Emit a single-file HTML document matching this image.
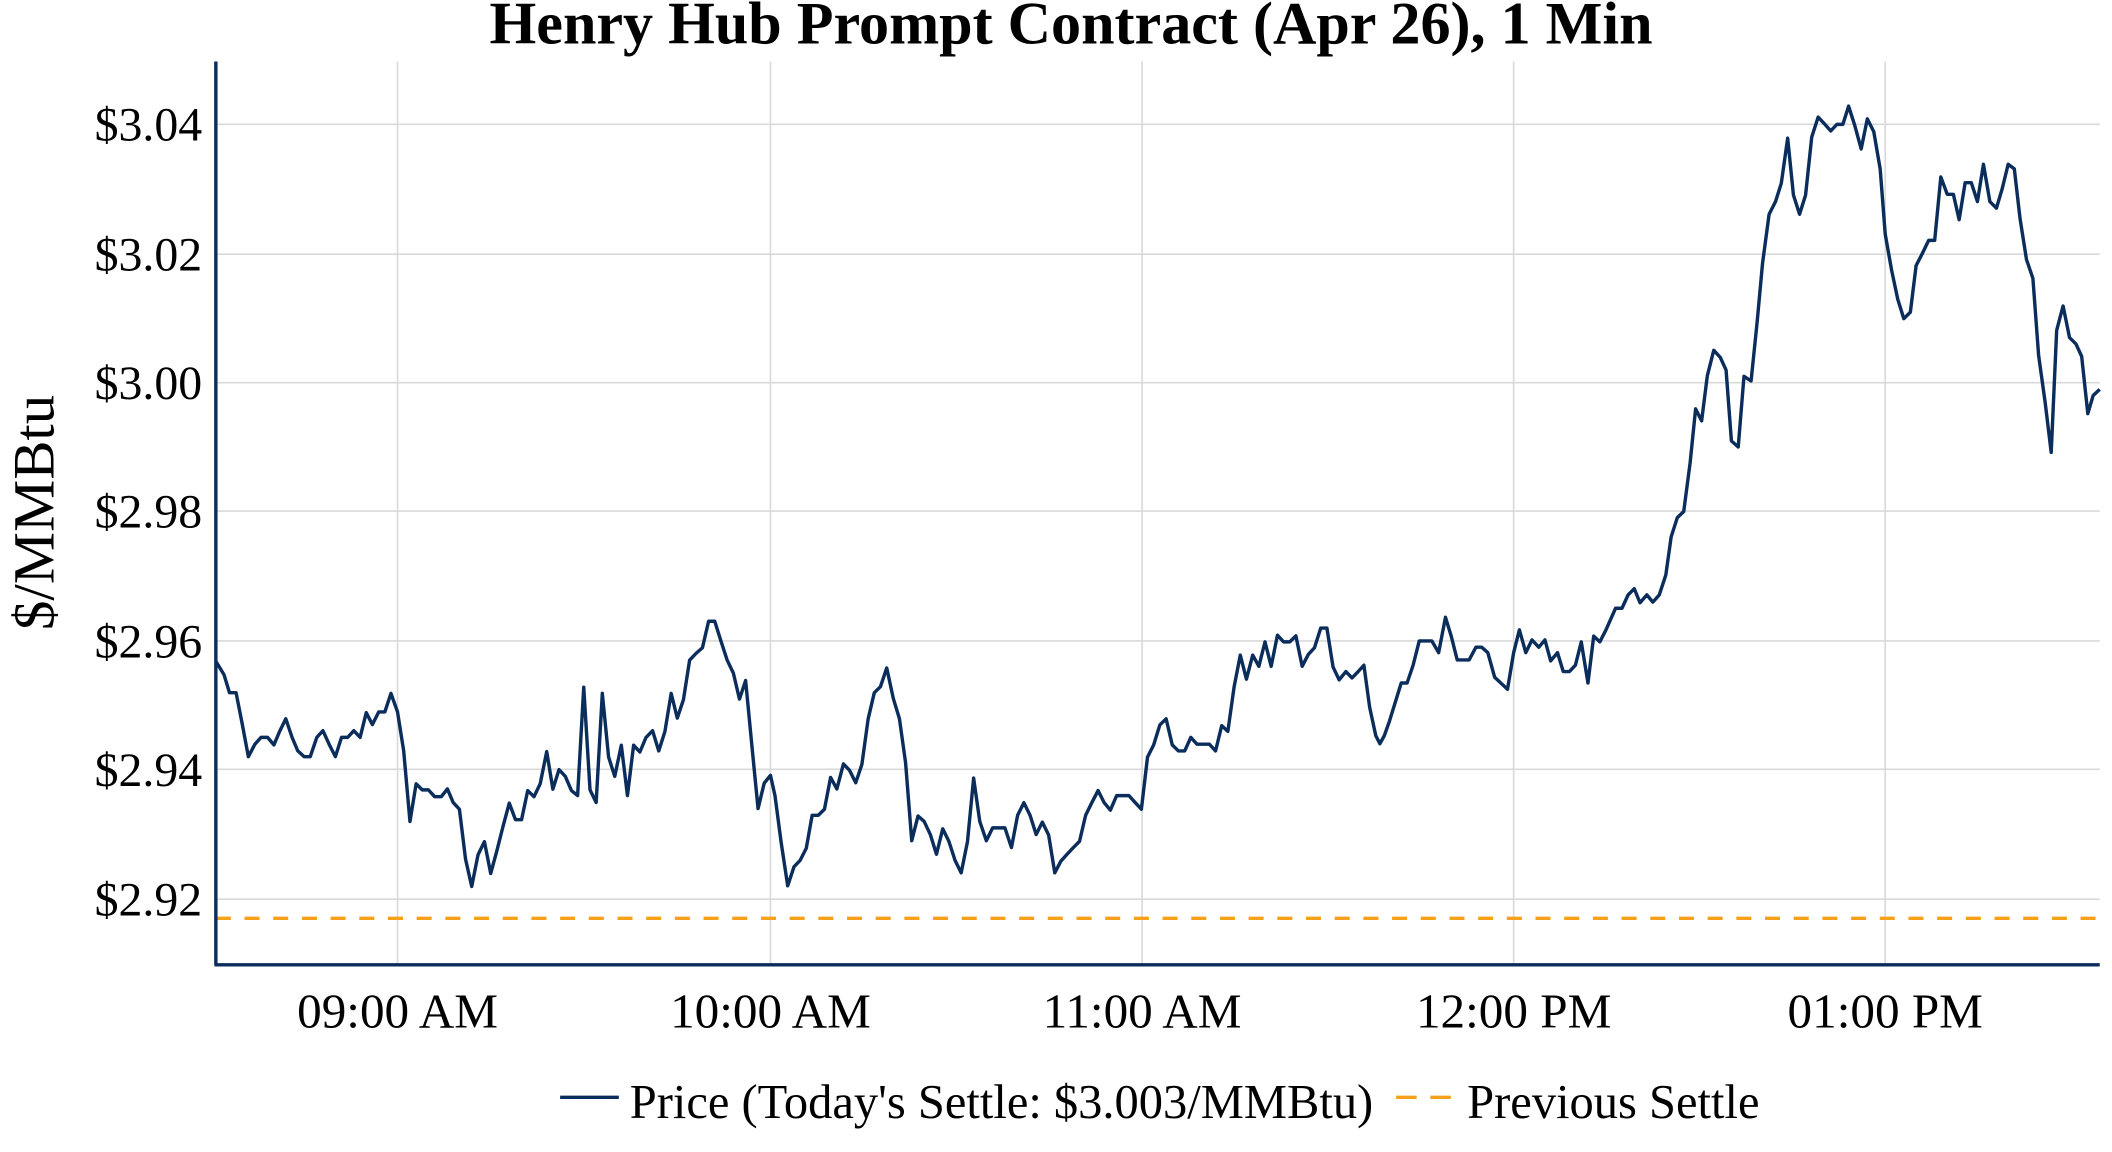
<!DOCTYPE html>
<html><head><meta charset="utf-8"><style>
html,body{margin:0;padding:0;background:#fff;}
svg{display:block;}
text{font-family:"Liberation Serif",serif;fill:#000;}
</style></head><body>
<svg id="s" width="2112" height="1152" viewBox="0 0 1546 843" preserveAspectRatio="none" xmlns="http://www.w3.org/2000/svg">
<rect width="1546" height="843" fill="#fff"/>
<g stroke="#d9d9d9" stroke-width="1.2">
<line x1="158" y1="91" x2="1537" y2="91"/>
<line x1="158" y1="186" x2="1537" y2="186"/>
<line x1="158" y1="280" x2="1537" y2="280"/>
<line x1="158" y1="374" x2="1537" y2="374"/>
<line x1="158" y1="469" x2="1537" y2="469"/>
<line x1="158" y1="563" x2="1537" y2="563"/>
<line x1="158" y1="658" x2="1537" y2="658"/>
<line x1="291" y1="45" x2="291" y2="705"/>
<line x1="564" y1="45" x2="564" y2="705"/>
<line x1="836" y1="45" x2="836" y2="705"/>
<line x1="1108" y1="45" x2="1108" y2="705"/>
<line x1="1380" y1="45" x2="1380" y2="705"/>
</g>
<line x1="158" y1="672" x2="1537" y2="672" stroke="#f7a01a" stroke-width="2.5" stroke-dasharray="11,10"/>
<path id="p" fill="none" stroke="#0b2d5c" stroke-width="2.5" stroke-linejoin="round"/>
<line x1="158" y1="45" x2="158" y2="706" stroke="#0b2d5c" stroke-width="2.5"/>
<line x1="157" y1="706" x2="1537" y2="706" stroke="#0b2d5c" stroke-width="2.5"/>
<text x="784" y="32" text-anchor="middle" font-size="44" font-weight="bold">Henry Hub Prompt Contract (Apr 26), 1 Min</text>
<g font-size="35" text-anchor="end">
<text x="148" y="103">$3.04</text>
<text x="148" y="198">$3.02</text>
<text x="148" y="292">$3.00</text>
<text x="148" y="386">$2.98</text>
<text x="148" y="481">$2.96</text>
<text x="148" y="575">$2.94</text>
<text x="148" y="670">$2.92</text>
</g>
<g font-size="36" text-anchor="middle">
<text x="291" y="752">09:00 AM</text>
<text x="564" y="752">10:00 AM</text>
<text x="836" y="752">11:00 AM</text>
<text x="1108" y="752">12:00 PM</text>
<text x="1380" y="752">01:00 PM</text>
</g>
<text transform="translate(39,375) rotate(-90)" text-anchor="middle" font-size="43">$/MMBtu</text>
<line x1="410" y1="803" x2="453" y2="803" stroke="#0b2d5c" stroke-width="2.5"/>
<text x="461" y="818" font-size="35.5">Price (Today's Settle: $3.003/MMBtu)</text>
<line x1="1022" y1="803" x2="1062" y2="803" stroke="#f7a01a" stroke-width="2.5" stroke-dasharray="15,10"/>
<text x="1074" y="818" font-size="35.5">Previous Settle</text>
</svg>
<script>
var z3=[[18,215],[35,255],[50,308],[68,308],[85,400],[102,497],[120,460],[137,440],[155,440],[172,462],[188,422],[205,385],[222,440],[238,480],[255,497],[272,497],[290,440],[307,420],[324,460],[341,497],[358,440],[375,440],[392,420],[409,440],[426,367],[443,402],[460,365],[477,365],[494,310],[512,365],[529,480],[546,688],[563,577],[580,595],[597,595],[614,615],[632,615],[649,592],[665,632],[682,652],[699,800],[716,880],[733,787],[751,748],[768,842],[785,775],[802,703],[819,634],[836,683],[853,683],[870,597],[887,615],[904,577],[922,482],[939,593],[956,535],[973,555],[990,597],[1007,612],[1024,292],[1041,595],[1058,632],[1075,310],[1092,498],[1109,555],[1127,463],[1144,612],[1161,463],[1178,483],[1195,440],[1213,420],[1230,480],[1247,423],[1264,310],[1281,383],[1298,328],[1315,212],[1332,192],[1350,175],[1367,97],[1384,97],[1401,155],[1418,212],[1435,250],[1452,327],[1469,272],[1486,465],[1503,650],[1520,575],[1537,552]];
var z4=[[15,612],[32,750],[50,878],[67,822],[84,803],[101,767],[117,670],[134,670],[151,652],[168,558],[185,592],[203,518],[220,537],[237,574],[254,520],[271,385],[288,308],[305,290],[322,235],[340,325],[357,385],[374,515],[391,745],[408,672],[425,688],[442,727],[459,785],[476,710],[493,747],[510,803],[527,840],[544,748],[561,560],[578,688],[596,745],[613,707],[630,707],[647,707],[665,765],[682,670],[699,633],[716,670],[733,727],[750,690],[767,728],[784,840],[801,805],[818,785],[835,765],[852,747],[869,670],[886,632],[903,597],[920,633],[937,655],[954,612],[971,612],[988,612],[1005,632],[1022,652],[1039,498],[1056,462],[1073,403],[1090,385],[1107,462],[1124,480],[1141,480],[1158,440],[1175,460],[1192,460],[1209,460],[1226,480],[1243,405],[1260,422],[1277,290],[1294,197],[1311,268],[1328,197],[1345,230],[1362,158],[1379,230],[1396,138],[1413,158],[1430,158],[1447,140],[1464,230],[1481,195],[1498,175],[1515,117],[1532,117],[1549,232],[1566,270]];
var z5=[[52,372],[70,392],[88,372],[105,352],[122,485],[140,575],[152,600],[165,575],[180,530],[197,470],[215,408],[232,408],[250,352],[268,275],[288,275],[305,275],[325,312],[345,200],[362,260],[380,335],[398,335],[415,335],[435,295],[452,295],[470,312],[490,390],[508,408],[528,428],[546,312],[563,240],[582,312],[600,272],[620,295],[638,272],[655,338],[675,312],[692,372],[710,372],[728,352],[745,278],[765,408],[782,260],[800,278],[818,240]];
var z2=[[110,1512],[128,1512],[145,1475],[162,1458],[178,1497],[197,1475],[214,1495],[232,1475],[250,1420],[265,1315],[282,1262],[300,1245],[318,1110],[333,962],[350,995],[366,870],[384,800],[402,820],[418,855],[433,1050],[452,1067],[468,872],[488,885],[505,720],[520,560],[538,425],[556,390],[572,340],[590,215],[606,372],[623,425],[640,372],[657,212],[675,157],[692,175],[710,195],[727,177],[744,177],[760,127],[777,180],[795,245],[812,162],[830,197],[848,300],[862,480],[880,580],[897,660],[914,713],[932,695],[948,567],[966,532],[983,497],[1000,497],[1017,322],[1035,370],[1052,370],[1068,440],[1085,338],[1102,338],[1119,390],[1136,287],[1154,390],[1172,408],[1188,355],[1205,287],[1222,300],[1238,437],[1256,550],[1274,602],[1290,815],[1308,945],[1325,1082],[1340,745],[1358,678],[1376,765],[1394,783],[1410,817],[1427,975],[1442,925],[1460,908]];
var pts=[];
z3.forEach(function(p){pts.push([291+(p[0]-512)*0.2663,469+(p[1]-155)*0.2478]);});
z4.forEach(function(p){pts.push([836+(p[0]-1024)*0.2663,469+(p[1]-155)*0.2478]);});
z5.forEach(function(p){pts.push([1108+(p[0]-546)*0.2485,469+(p[1]-275)*0.2313]);});
z2.forEach(function(p){pts.push([1380+(p[0]-862)/3.81,91+(p[1]-177)/3.77]);});
pts[0][0]=158;
var d=pts.map(function(p,i){return (i?'L':'M')+p[0].toFixed(1)+' '+p[1].toFixed(1);}).join(' ');
document.getElementById('p').setAttribute('d',d);
</script>
</body></html>
